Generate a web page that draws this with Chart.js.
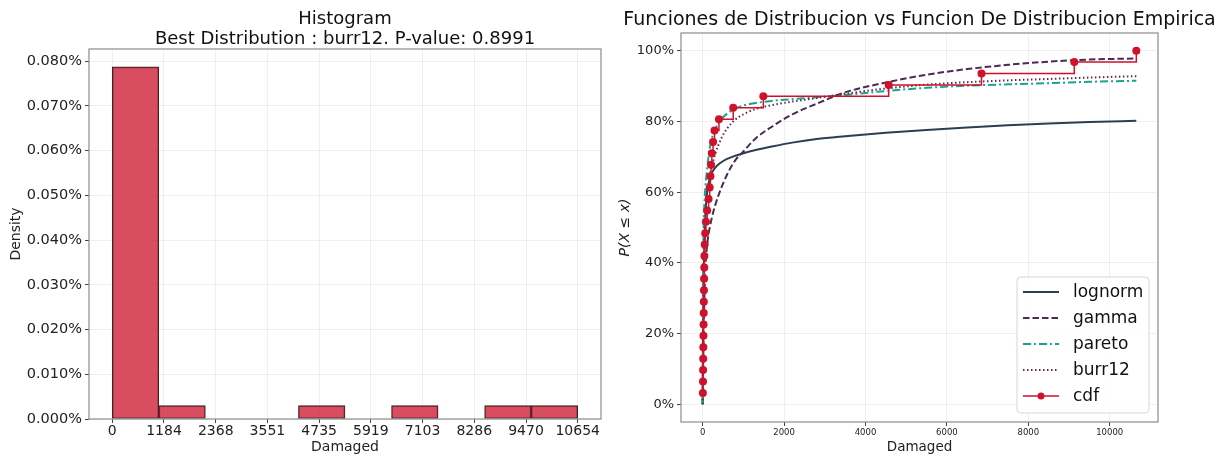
<!DOCTYPE html>
<html>
<head>
<meta charset="utf-8">
<script src="https://cdn.jsdelivr.net/npm/chart.js@4.4.1/dist/chart.umd.min.js"></script>
<style>
html, body { margin: 0; padding: 0; background: #fff; }
#wrap { position: relative; width: 1224px; height: 454px; }
.box { position: absolute; top: 0; width: 612px; height: 454px; }
</style>
</head>
<body>
<div id="wrap">
  <div class="box" style="left:0"><canvas id="hist"></canvas></div>
  <div class="box" style="left:612px"><canvas id="cdf"></canvas></div>
</div>
<script>
// histogram (10 bins between 0 and 10654)
const binEdges = [0, 1065.4, 2130.8, 3196.2, 4261.6, 5327, 6392.4, 7457.8, 8523.2, 9588.6, 10654];
const densityPct = [0.0787, 0.0030, 0, 0, 0.0030, 0, 0.0030, 0, 0.0030, 0.0030];
const histTicks = [0, 1184, 2368, 3551, 4735, 5919, 7103, 8286, 9470, 10654];
const densityTicks = [0, 0.01, 0.02, 0.03, 0.04, 0.05, 0.06, 0.07, 0.08];

// empirical cdf points (sorted damaged values)
const damaged = [5, 8, 10, 13, 16, 19, 22, 25, 28, 31, 35, 39, 42, 50, 62, 80, 110, 145, 172, 190,
                 205, 225, 255, 290, 400, 750, 1490, 4570, 6850, 9130, 10654];
const ecdf = damaged.map((v, i) => (i + 1) / damaged.length);

// fitted distribution curves
const curveX  = [0, 5, 10, 20, 40, 70, 100, 150, 200, 300, 450, 600, 800, 1000, 1300, 1700, 2200, 2800, 3500, 4500, 5500, 6500, 7500, 8500, 9500, 10654];
const lognorm = [0, 0.12, 0.2, 0.32, 0.45, 0.54, 0.59, 0.625, 0.648, 0.668, 0.684, 0.694, 0.703, 0.71, 0.719, 0.729, 0.74, 0.75, 0.758, 0.768, 0.776, 0.783, 0.789, 0.794, 0.798, 0.802];
const gamma   = [0, 0.06, 0.1, 0.17, 0.29, 0.39, 0.44, 0.485, 0.515, 0.56, 0.61, 0.65, 0.69, 0.715, 0.752, 0.785, 0.82, 0.85, 0.882, 0.91, 0.932, 0.948, 0.96, 0.969, 0.975, 0.978];
const pareto  = [0, 0.2, 0.35, 0.47, 0.56, 0.62, 0.655, 0.705, 0.74, 0.775, 0.805, 0.822, 0.836, 0.845, 0.852, 0.858, 0.863, 0.868, 0.875, 0.886, 0.895, 0.901, 0.905, 0.908, 0.912, 0.915];
const burr12  = [0, 0.1, 0.2, 0.32, 0.45, 0.54, 0.595, 0.63, 0.66, 0.705, 0.75, 0.78, 0.805, 0.82, 0.835, 0.846, 0.856, 0.866, 0.878, 0.893, 0.904, 0.911, 0.916, 0.92, 0.924, 0.928];
const yTicksCdf = [0, 0.2, 0.4, 0.6, 0.8, 1.0];
const xTicksCdf = [0, 2000, 4000, 6000, 8000, 10000];

Chart.defaults.font.family = 'DejaVu Sans';
Chart.defaults.color = '#222';
Chart.defaults.animation = false;

const gridColor = 'rgba(0,0,0,0.06)';

const frame = {
  id: 'frame',
  afterDraw(chart) {
    const a = chart.chartArea, ctx = chart.ctx;
    ctx.save();
    ctx.strokeStyle = '#8c8c8c';
    ctx.lineWidth = 1.2;
    ctx.strokeRect(a.left, a.top, a.right - a.left, a.bottom - a.top);
    ctx.restore();
  }
};

// title centred over the plot area, like matplotlib's ax.set_title
const axTitle = (lines, size, ys) => ({
  id: 'axTitle',
  afterDraw(chart) {
    const a = chart.chartArea, ctx = chart.ctx;
    ctx.save();
    ctx.font = size + 'px "DejaVu Sans"';
    ctx.fillStyle = '#111';
    ctx.textAlign = 'center';
    ctx.textBaseline = 'middle';
    lines.forEach((t, i) => ctx.fillText(t, (a.left + a.right) / 2, ys[i]));
    ctx.restore();
  }
});

// ---------- histogram ----------
const centers = binEdges.slice(0, -1).map((e, i) => (e + binEdges[i + 1]) / 2);

new Chart(document.getElementById('hist'), {
  type: 'bar',
  data: {
    datasets: [{
      data: centers.map((c, i) => ({ x: c, y: densityPct[i] > 0 ? densityPct[i] : null })),
      backgroundColor: 'rgba(206, 32, 55, 0.8)',
      borderColor: '#2a2a2a',
      borderWidth: 1,
      borderSkipped: false,
      barPercentage: 1,
      categoryPercentage: 1
    }]
  },
  options: {
    responsive: true,
    maintainAspectRatio: false,
    layout: { padding: { left: 0, right: 11, top: 49, bottom: 0 } },
    plugins: {
      legend: { display: false },
      tooltip: { enabled: false },
      title: { display: false }
    },
    scales: {
      x: {
        type: 'linear',
        offset: false,
        min: -532.7,
        max: 11186.7,
        afterBuildTicks: s => { s.ticks = histTicks.map(v => ({ value: v })); },
        afterFit: s => { s.height = 35; },
        ticks: { font: { size: 14 }, color: '#222', padding: 0, maxRotation: 0, autoSkip: false,
                 callback: v => String(v) },
        grid: { offset: false, color: gridColor, tickColor: '#444', tickLength: 4 },
        border: { display: false },
        title: { display: true, text: 'Damaged', font: { size: 14, lineHeight: 1 }, padding: { top: 0, bottom: 0 } }
      },
      y: {
        min: 0,
        max: 0.0827,
        afterBuildTicks: s => { s.ticks = densityTicks.map(v => ({ value: v })); },
        afterFit: s => { s.width = 89; },
        ticks: { font: { size: 14.5 }, color: '#222', padding: 3,
                 callback: v => v.toFixed(3) + '%' },
        grid: { color: gridColor, tickColor: '#444', tickLength: 4 },
        border: { display: false },
        title: { display: true, text: 'Density', font: { size: 14 }, padding: { top: 8, bottom: 0 } }
      }
    }
  },
  plugins: [frame, axTitle(['Histogram', 'Best Distribution : burr12. P-value: 0.8991'], 18, [19, 39])]
});

// ---------- cdf comparison ----------
const legendItems = [
  { label: 'lognorm', color: '#2c3e50', dash: [], width: 2 },
  { label: 'gamma', color: '#4a2b52', dash: [6.5, 3], width: 2 },
  { label: 'pareto', color: '#17a589', dash: [8, 3, 2, 3], width: 2 },
  { label: 'burr12', color: '#62294f', dash: [1.5, 2.5], width: 2 },
  { label: 'cdf', color: '#d0112b', dash: [], width: 1.5, marker: true }
];

const innerLegend = {
  id: 'innerLegend',
  afterDraw(chart) {
    const ctx = chart.ctx;
    const x0 = 405, y0 = 277, w = 132, h = 136;
    ctx.save();
    ctx.fillStyle = 'rgba(255,255,255,0.85)';
    ctx.strokeStyle = '#d6d6d6';
    ctx.lineWidth = 1;
    ctx.beginPath();
    ctx.roundRect(x0, y0, w, h, 4);
    ctx.fill();
    ctx.stroke();
    ctx.font = '17px "DejaVu Sans"';
    ctx.textBaseline = 'middle';
    legendItems.forEach((it, i) => {
      const y = y0 + 15 + i * 26;
      ctx.strokeStyle = it.color;
      ctx.lineWidth = it.width;
      ctx.setLineDash(it.dash);
      ctx.beginPath();
      ctx.moveTo(x0 + 6, y);
      ctx.lineTo(x0 + 42, y);
      ctx.stroke();
      ctx.setLineDash([]);
      if (it.marker) {
        ctx.fillStyle = it.color;
        ctx.beginPath();
        ctx.arc(x0 + 24, y, 3.5, 0, Math.PI * 2);
        ctx.fill();
      }
      ctx.fillStyle = '#111';
      ctx.fillText(it.label, x0 + 56, y + 1);
    });
    ctx.restore();
  }
};

const curve = (ys, it, order) => ({
  label: it.label,
  data: curveX.map((x, i) => ({ x, y: ys[i] })),
  borderColor: it.color,
  borderDash: it.dash,
  borderWidth: it.width,
  pointRadius: 0,
  cubicInterpolationMode: 'monotone',
  order
});

new Chart(document.getElementById('cdf'), {
  type: 'line',
  data: {
    datasets: [
      curve(lognorm, legendItems[0], 4),
      curve(gamma, legendItems[1], 3),
      curve(pareto, legendItems[2], 2),
      curve(burr12, legendItems[3], 1),
      {
        label: 'cdf',
        data: damaged.map((x, i) => ({ x, y: ecdf[i] })),
        borderColor: '#d0112b',
        backgroundColor: '#d0112b',
        borderWidth: 1.5,
        stepped: true,
        pointRadius: 4,
        pointBorderWidth: 0,
        order: 0
      }
    ]
  },
  options: {
    responsive: true,
    maintainAspectRatio: false,
    layout: { padding: { left: 0, right: 66, top: 33, bottom: 0 } },
    plugins: {
      legend: { display: false },
      tooltip: { enabled: false },
      title: { display: false }
    },
    scales: {
      x: {
        type: 'linear',
        min: -532.7,
        max: 11186.7,
        afterBuildTicks: s => { s.ticks = xTicksCdf.map(v => ({ value: v })); },
        afterFit: s => { s.height = 32; },
        ticks: { font: { size: 8.5 }, color: '#222', padding: 2, maxRotation: 0, autoSkip: false,
                 callback: v => String(v) },
        grid: { color: gridColor, tickColor: '#444', tickLength: 4 },
        border: { display: false },
        title: { display: true, text: 'Damaged', font: { size: 13.5, lineHeight: 1 }, padding: { top: 0, bottom: 0 } }
      },
      y: {
        min: -0.05,
        max: 1.05,
        afterBuildTicks: s => { s.ticks = yTicksCdf.map(v => ({ value: v })); },
        afterFit: s => { s.width = 69; },
        ticks: { font: { size: 13 }, color: '#222', padding: 3,
                 callback: v => Math.round(v * 100) + '%' },
        grid: { color: gridColor, tickColor: '#444', tickLength: 4 },
        border: { display: false },
        title: { display: true, text: 'P(X ≤ x)', font: { size: 14, style: 'italic' }, padding: { top: 5, bottom: 0 } }
      }
    }
  },
  plugins: [frame, innerLegend, axTitle(['Funciones de Distribucion vs Funcion De Distribucion Empirica'], 19, [20.5])]
});
</script>
</body>
</html>
